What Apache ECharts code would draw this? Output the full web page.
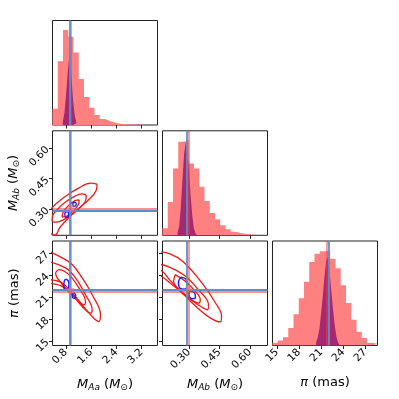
<!DOCTYPE html>
<html><head><meta charset="utf-8">
<script src="https://cdn.jsdelivr.net/npm/echarts@6/dist/echarts.min.js"></script>
<style>html,body{margin:0;padding:0;background:#fff}#c{width:399px;height:399px}</style>
</head><body><div id="c"></div>
<script>
// ---------- axis ranges & ticks ----------
const rangeMAa = [0.375, 3.71];
const rangeMAb = [0.170, 0.686];
const rangePi = [14.38, 28.65];
const ticksMAa = [0.8, 1.6, 2.4, 3.2];
const ticksMAb = [0.30, 0.45, 0.60];
const ticksPi = [15, 18, 21, 24, 27];

// ---------- truth lines [M_Aa, M_Ab, pi] ----------
const truthRed = [0.96, 0.302, 21.75];
const truthBlue = [0.92, 0.294, 22.0];

// ---------- red histograms (20 bins over axis range) ----------
const histRedMAa = [16.3, 63.7, 95, 88.3, 72.5, 46, 28, 17.3, 10, 6, 4, 2.3, 1.2, 0.7, 0.4, 0.3, 0.2, 0.1, 0.1, 0];
const histRedMAb = [7, 33, 66, 92.6, 94, 71, 66, 48, 34, 22, 16, 10, 6, 3.5, 2, 1.2, 0.7, 0.4, 0.2, 0.1];
const histRedPi = [2.7, 5, 8.3, 17.7, 31.7, 47.7, 64.3, 84.3, 92.7, 95.3, 96, 87.7, 78, 61, 43, 26, 14, 7.7, 2.7, 1.7];

// ---------- narrow (purple) histograms: start, bin width, counts ----------
const histBlueMAaStart = 0.70, histBlueMAaWidth = 0.055;
const histBlueMAa = [3, 12, 32, 55, 72, 48, 24, 9, 2];
const histBlueMAbStart = 0.244, histBlueMAbWidth = 0.008;
const histBlueMAb = [3, 9, 28, 55, 80, 92, 86, 64, 40, 20, 7, 2];
const histBluePiStart = 20.30, histBluePiWidth = 0.23;
const histBluePi = [3, 8, 17, 33, 50, 70, 86, 89, 75, 55, 37, 21, 9, 3];

// ---------- contours: panel (M_Aa, M_Ab) ----------
const c21Outer = [[1.790,0.4228],[1.762,0.3916],[1.508,0.3431],[1.105,0.2891],[0.619,0.2109],[0.460,0.1713],[0.238,0.1911],[0.143,0.2406],[0.365,0.3064],[0.768,0.3604],[1.216,0.4045],[1.590,0.4272]];
const c21Mid = [[1.444,0.3693],[1.438,0.3470],[1.289,0.3129],[1.035,0.2772],[0.746,0.2485],[0.505,0.2351],[0.365,0.2406],[0.371,0.2629],[0.524,0.2970],[0.775,0.3327],[1.063,0.3609],[1.308,0.3748]];
const c21Inner = [[1.222,0.3446],[1.200,0.3233],[1.032,0.2901],[0.819,0.2639],[0.683,0.2604],[0.705,0.2817],[0.873,0.3149],[1.086,0.3411]];
const c21BlueA = [[1.127,0.3297],[1.111,0.3149],[1.032,0.3134],[1.022,0.3272],[1.073,0.3332]];
const c21BlueB = [[0.889,0.2851],[0.873,0.2629],[0.794,0.2589],[0.768,0.2752],[0.810,0.2866]];
const dot21 = [0.975, 0.303];

// ---------- contours: panel (M_Aa, pi) ----------
const c31Outer = [[0.143,27.49],[0.683,26.35],[1.000,25.43],[1.317,23.61],[1.635,21.32],[1.898,18.57],[1.848,17.65],[1.635,18.34],[1.317,19.94],[1.000,21.55],[0.683,22.92],[0.143,23.92]];
const c31Mid = [[0.143,25.98],[0.787,24.98],[1.105,23.61],[1.422,21.32],[1.635,19.26],[1.581,18.80],[1.317,19.71],[1.000,21.32],[0.683,22.46],[0.143,23.38]];
const c31Inner = [[0.470,24.30],[0.578,24.75],[0.895,24.06],[1.213,22.24],[1.422,20.40],[1.371,19.94],[1.105,20.86],[0.787,22.24],[0.524,23.61]];
const c31BlueA = [[0.816,23.44],[0.895,22.96],[0.879,22.07],[0.794,21.96],[0.737,22.55],[0.752,23.24]];
const c31BlueB = [[1.054,21.59],[1.111,21.25],[1.079,20.84],[1.010,20.90],[1.000,21.32]];
const dot31 = [0.965, 21.85];

// ---------- contours: panel (M_Ab, pi) ----------
const c32Outer = [[0.1328,27.22],[0.2065,26.88],[0.2729,25.78],[0.3664,22.83],[0.4328,20.08],[0.4599,18.43],[0.4549,17.61],[0.4082,18.09],[0.3344,19.71],[0.2680,21.55],[0.2065,23.31],[0.1672,24.54],[0.1180,25.16]];
const c32Mid = [[0.1328,25.57],[0.1982,25.16],[0.2769,23.97],[0.3428,22.11],[0.3959,19.94],[0.3920,19.26],[0.3394,20.05],[0.2769,21.43],[0.2238,22.55],[0.1672,23.79],[0.1328,24.34]];
const c32Inner = [[0.2326,24.06],[0.2818,23.14],[0.3310,21.77],[0.3556,20.63],[0.3477,20.18],[0.2985,20.86],[0.2493,22.00],[0.2247,23.14]];
const c32BlueA = [[0.2607,23.72],[0.2852,23.44],[0.2902,22.69],[0.2779,22.07],[0.2557,22.21],[0.2484,23.03]];
const c32BlueB = [[0.3049,21.80],[0.3271,21.59],[0.3320,20.97],[0.3197,20.77],[0.3025,21.04],[0.3000,21.52]];
const dot32 = [0.299, 22.2];

// ---------- labels ----------
const axisNames = ['{i|M}{s|Aa} ({i|M}{o|⊙})', '{i|M}{s|Ab} ({i|M}{o|⊙})', '{i|π} (mas)'];

// ---------- build ----------
const FONT = 'DejaVu Sans';
const RED_FILL = '#ff8080', BLUE_FILL = '#a52873';
const RED_LINE = 'rgba(238,60,60,0.55)', BLUE_LINE = '#5b8fca';
const RED_C = '#f01818', BLUE_C = '#1c1cf5';
const ranges = [rangeMAa, rangeMAb, rangePi];
const ticks = [ticksMAa, ticksMAb, ticksPi];
const fmts = [v => v.toFixed(1), v => v.toFixed(2), v => String(Math.round(v))];
const redHists = [histRedMAa, histRedMAb, histRedPi];
const blueHists = [[histBlueMAaStart, histBlueMAaWidth, histBlueMAa], [histBlueMAbStart, histBlueMAbWidth, histBlueMAb], [histBluePiStart, histBluePiWidth, histBluePi]];
const contours = {
  '1,0': [c21Outer, c21Mid, c21Inner, c21BlueA, c21BlueB, dot21],
  '2,0': [c31Outer, c31Mid, c31Inner, c31BlueA, c31BlueB, dot31],
  '2,1': [c32Outer, c32Mid, c32Inner, c32BlueA, c32BlueB, dot32]
};
const colLeft = [52.5, 162.5, 272.5], rowTop = [20.5, 130.8, 241], W = 105, H = 104.5;
const panels = [[0,0],[1,0],[1,1],[2,0],[2,1],[2,2]];

const rich = {
  i: {fontSize: 13, fontStyle: 'italic', fontFamily: FONT, color: '#000'},
  s: {fontSize: 9, fontStyle: 'italic', fontFamily: FONT, color: '#000', verticalAlign: 'bottom', padding: [7, 0, 0, 0]},
  o: {fontSize: 9, fontFamily: FONT, color: '#000', verticalAlign: 'bottom', padding: [7, 0, 0, 0]}
};
const nameStyle = {fontSize: 13, fontFamily: FONT, color: '#000', rich: rich};
const LBL = 10.5, LMARGIN = 5;

const grid = [], xAxis = [], yAxis = [], series = [];

function stepPts(start, width, vals) {
  const pts = vals.map((v, k) => [start + k * width, v]);
  pts.push([start + vals.length * width, vals[vals.length - 1]]);
  return pts;
}
function closed(arr) { return arr.concat([arr[0]]); }

panels.forEach(([r, c], i) => {
  const diag = r === c;
  grid.push({left: colLeft[c], top: rowTop[r], width: W, height: H, show: true,
    borderColor: '#222', borderWidth: 1, backgroundColor: 'transparent', containLabel: false});
  xAxis.push({gridIndex: i, type: 'value', min: ranges[c][0], max: ranges[c][1],
    axisLine: {show: false}, splitLine: {show: false},
    axisTick: {show: true, inside: false, length: 3.5, lineStyle: {color: '#222', width: 1}, customValues: ticks[c]},
    axisLabel: {show: r === 2, customValues: ticks[c], rotate: 45, margin: LMARGIN, fontSize: LBL, fontFamily: FONT, color: '#000', formatter: fmts[c]},
    name: r === 2 ? axisNames[c] : '', nameLocation: 'middle', nameGap: 31, nameTextStyle: nameStyle});
  if (diag) {
    const red = redHists[c];
    yAxis.push({gridIndex: i, type: 'value', min: 0, max: 1.1 * Math.max(...red),
      axisLine: {show: false}, splitLine: {show: false}, axisTick: {show: false}, axisLabel: {show: false}});
    const w = (ranges[c][1] - ranges[c][0]) / red.length;
    series.push({type: 'line', xAxisIndex: i, yAxisIndex: i, step: 'end', symbol: 'none', silent: true, z: 1,
      data: stepPts(ranges[c][0], w, red), lineStyle: {width: 0, opacity: 0}, areaStyle: {color: RED_FILL, opacity: 1}});
    const b = blueHists[c];
    series.push({type: 'line', xAxisIndex: i, yAxisIndex: i, step: 'end', symbol: 'none', silent: true, z: 2,
      data: stepPts(b[0], b[1], b[2]), lineStyle: {width: 0, opacity: 0}, areaStyle: {color: BLUE_FILL, opacity: 1}});
  } else {
    yAxis.push({gridIndex: i, type: 'value', min: ranges[r][0], max: ranges[r][1],
      axisLine: {show: false}, splitLine: {show: false},
      axisTick: {show: true, inside: false, length: 3.5, lineStyle: {color: '#222', width: 1}, customValues: ticks[r]},
      axisLabel: {show: c === 0, customValues: ticks[r], rotate: 45, margin: LMARGIN, fontSize: LBL, fontFamily: FONT, color: '#000', formatter: fmts[r]},
      name: c === 0 ? axisNames[r] : '', nameLocation: 'middle', nameGap: 31, nameRotate: 90, nameTextStyle: nameStyle});
    const cs = contours[r + ',' + c];
    [0, 1, 2].forEach(k => series.push({type: 'line', xAxisIndex: i, yAxisIndex: i, symbol: 'none', smooth: 0.4, silent: true, z: 2,
      data: closed(cs[k]), lineStyle: {color: RED_C, width: 1.3}}));
    [3, 4].forEach(k => series.push({type: 'line', xAxisIndex: i, yAxisIndex: i, symbol: 'none', smooth: 0.4, silent: true, z: 3,
      data: closed(cs[k]), lineStyle: {color: BLUE_C, width: 1.4}}));
  }
  const ml = [
    {xAxis: truthRed[c], lineStyle: {color: RED_LINE, width: 1.8, type: 'solid'}},
    {xAxis: truthBlue[c], lineStyle: {color: BLUE_LINE, width: 1.8, type: 'solid'}}
  ];
  if (!diag) {
    ml.push({yAxis: truthRed[r], lineStyle: {color: RED_LINE, width: 1.8, type: 'solid'}});
    ml.push({yAxis: truthBlue[r], lineStyle: {color: BLUE_LINE, width: 1.8, type: 'solid'}});
  }
  series.push({type: 'scatter', xAxisIndex: i, yAxisIndex: i, silent: true, z: 5,
    data: diag ? [] : [contours[r + ',' + c][5]], symbol: 'rect', symbolSize: 6,
    itemStyle: {color: 'rgba(232,110,125,0.75)'},
    markLine: {silent: true, symbol: ['none', 'none'], animation: false, label: {show: false}, emphasis: {disabled: true}, data: ml}});
});

const chart = echarts.init(document.getElementById('c'));
chart.setOption({animation: false, backgroundColor: '#fff', grid, xAxis, yAxis, series});
</script></body></html>
